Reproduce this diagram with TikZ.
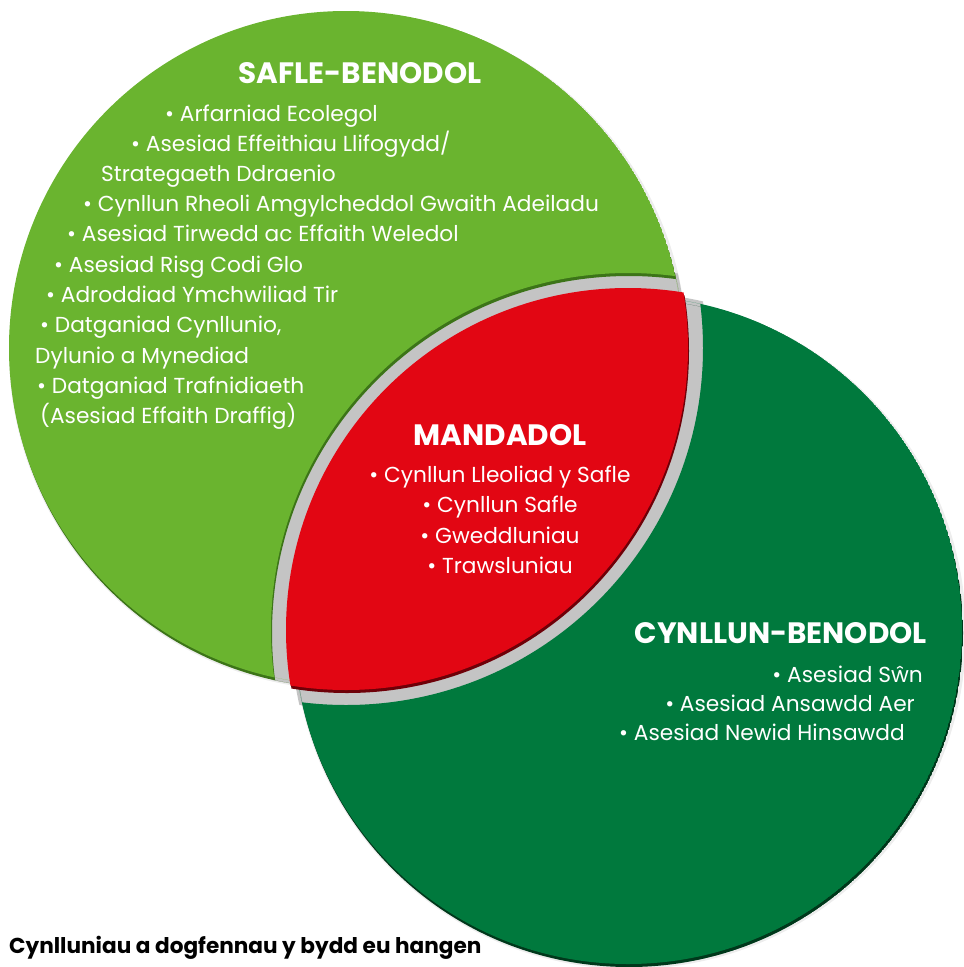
\documentclass[tikz,border=0pt]{standalone}
\usepackage{fontspec}
\setmainfont{Poppins}
\definecolor{safle}{HTML}{6AB42F}
\definecolor{saflerim}{HTML}{3C7418}
\definecolor{cynllun}{HTML}{00793D}
\definecolor{cynllunrim}{HTML}{00381B}
\definecolor{mandad}{HTML}{E20613}
\definecolor{mandadrim}{HTML}{6E0008}
\definecolor{gapgrey}{HTML}{C4C4C4}

\tikzset{
  head/.style={text=white, inner sep=0pt, font=\fontsize{29.5}{34}\selectfont\bfseries},
  item/.style={text=white, inner sep=0pt, font=\fontsize{21.7}{30}\selectfont},
}

\begin{document}
\begin{tikzpicture}[x=1pt,y=-1pt]
    \useasboundingbox (0,0) rectangle (964,967);

    % soft shadow round the outside
    \fill[black!7] (348,351) circle (339);
    \fill[black!7] (630,633) circle (336);

    % grey gap round the middle (kept inside the two circles)
    \begin{scope}
      \clip (346,348) circle (340);
      \clip (628,630) circle (360);
      \fill[gapgrey] (346,348) circle (360);
    \end{scope}
    \begin{scope}
      \clip (628,630) circle (337);
      \clip (346,348) circle (360);
      \fill[gapgrey] (628,630) circle (360);
    \end{scope}

    % site specific circle (cut by the plan one)
    \begin{scope}[shift={(1,3)}]
      \clip (346,348) circle (337);
      \fill[saflerim, even odd rule] (346,348) circle (337) (628,630) circle (357);
    \end{scope}
    \begin{scope}
      \clip (346,348) circle (337);
      \fill[safle, even odd rule] (346,348) circle (337) (628,630) circle (357);
    \end{scope}

    % plan specific circle (cut by the site one)
    \begin{scope}[shift={(1,3)}]
      \clip (628,630) circle (334);
      \fill[cynllunrim, even odd rule] (628,630) circle (334) (346,348) circle (357);
    \end{scope}
    \begin{scope}
      \clip (628,630) circle (334);
      \fill[cynllun, even odd rule] (628,630) circle (334) (346,348) circle (357);
    \end{scope}

    % mandatory lens
    \begin{scope}[shift={(1,3)}]
      \clip (346,348) circle (342);
      \fill[mandadrim] (628,630) circle (342);
    \end{scope}
    \begin{scope}
      \clip (346,348) circle (342);
      \fill[mandad] (628,630) circle (342);
    \end{scope}

    % site specific
    \node[head, anchor=base] (safle) at (360,83) {SAFLE-BENODOL};
    \node[item, anchor=base west] (s1) at (165,121) {• Arfarniad Ecolegol};
    \node[item, anchor=base west] (s2) at (131,151) {• Asesiad Effeithiau Llifogydd/};
    \node[item, anchor=base west] (s3) at (101,181) {Strategaeth Ddraenio};
    \node[item, anchor=base west] (s4) at (83,211) {• Cynllun Rheoli Amgylcheddol Gwaith Adeiladu};
    \node[item, anchor=base west] (s5) at (67,241) {• Asesiad Tirwedd ac Effaith Weledol};
    \node[item, anchor=base west] (s6) at (54,272) {• Asesiad Risg Codi Glo};
    \node[item, anchor=base west] (s7) at (46,302) {• Adroddiad Ymchwiliad Tir};
    \node[item, anchor=base west] (s8) at (40,332) {• Datganiad Cynllunio,};
    \node[item, anchor=base west] (s9) at (35,363) {Dylunio a Mynediad};
    \node[item, anchor=base west] (s10) at (37,393) {• Datganiad Trafnidiaeth};
    \node[item, anchor=base west] (s11) at (40,423) {(Asesiad Effaith Draffig)};

    % mandatory
    \node[head, anchor=base] (mandadol) at (500,445) {MANDADOL};
    \node[item, anchor=base] (m1) at (500,482) {• Cynllun Lleoliad y Safle};
    \node[item, anchor=base] (m2) at (500,512) {• Cynllun Safle};
    \node[item, anchor=base] (m3) at (500,543) {• Gweddluniau};
    \node[item, anchor=base] (m4) at (500,573) {• Trawsluniau};

    % plan specific
    \node[head, anchor=base east] (cynllun) at (927,643) {CYNLLUN-BENODOL};
    \node[item, anchor=base east] (c1) at (923,682) {• Asesiad Sŵn};
    \node[item, anchor=base east] (c2) at (915,711) {• Asesiad Ansawdd Aer};
    \node[item, anchor=base east] (c3) at (905,740) {• Asesiad Newid Hinsawdd};

    \node[anchor=base west, inner sep=0pt, font=\fontsize{21.6}{24}\selectfont\bfseries] (caption) at (9,953) {Cynlluniau a dogfennau y bydd eu hangen};
\end{tikzpicture}
\end{document}
